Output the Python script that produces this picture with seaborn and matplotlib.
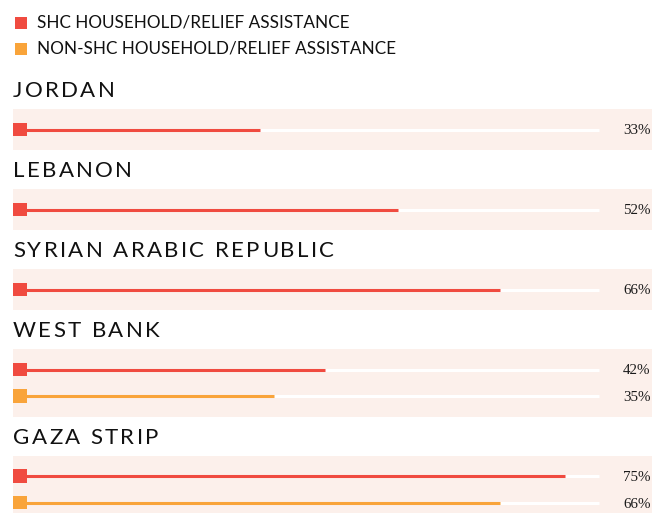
import numpy as np
import pandas as pd
import matplotlib
matplotlib.use("Agg")
import matplotlib.pyplot as plt
import seaborn as sns

# data
countries = ["JORDAN", "LEBANON", "SYRIAN ARABIC REPUBLIC", "WEST BANK", "GAZA STRIP"]
shc_values = [33, 52, 66, 42, 75]
non_shc_values = [None, None, None, 35, 66]
series_labels = ["SHC HOUSEHOLD/RELIEF ASSISTANCE", "NON-SHC HOUSEHOLD/RELIEF ASSISTANCE"]
track_max = 79.7

RED = "#F04B40"
ORANGE = "#F9A43A"
PANEL = "#FCF0EB"

sns.set_theme(style="white")
plt.rcParams["font.family"] = ["Lato", "DejaVu Sans"]

W, H = 652, 513
fig = plt.figure(figsize=(W / 100, H / 100), dpi=100)
ax = fig.add_axes([0, 0, 1, 1])
px_per_pct = 7.27
x0 = 20


def px(x):
    return (x - x0) / px_per_pct


ax.set_xlim(px(0), px(W))
ax.set_ylim(H, 0)
ax.axis("off")
renderer = fig.canvas.get_renderer()


def spaced_text(x, y, s, spacing, **kw):
    # matplotlib has no letter-spacing, so place the letters one by one
    cur = x
    for ch in s:
        t = ax.text(px(cur), y, ch, **kw)
        if ch == " ":
            w = t.get_fontsize() * 100 / 72 * 0.26
        else:
            w = t.get_window_extent(renderer).width
        cur += w + spacing


# legend
for i, (lab, col) in enumerate(zip(series_labels, [RED, ORANGE])):
    yy = 22.5 + i * 26.5
    ax.scatter([px(21)], [yy], marker="s", s=78, color=col, linewidths=0)
    ax.text(px(37), yy, lab, fontsize=12.3, va="center", ha="left", color="#111111")

# build rows
rows = []
y = 97
for c, s, n in zip(countries, shc_values, non_shc_values):
    spaced_text(13, y, c, 2.35, fontsize=16, va="baseline", ha="left", color="#111111")
    top = y + 12
    vals = [(s, "SHC")] + ([(n, "NON")] if n is not None else [])
    bottom = top + 41 + (len(vals) - 1) * 26.5
    ax.axhspan(top, bottom, xmin=13 / W, xmax=1, color=PANEL, lw=0, zorder=0)
    for k, (v, kind) in enumerate(vals):
        rows.append({"country": c, "series": kind, "value": v, "y": top + 20.5 + k * 26.5})
    y = bottom + 27

df = pd.DataFrame(rows)
colors = {"SHC": RED, "NON": ORANGE}

ax.hlines(df["y"], 0, track_max, color="white", lw=2.2, zorder=1)
ax.hlines(df["y"], 0, df["value"], color=[colors[s] for s in df["series"]], lw=2.2, zorder=2)
df["start"] = 0
sns.scatterplot(data=df, x="start", y="y", hue="series", palette=colors, marker="s",
                s=100, linewidth=0, legend=False, ax=ax, zorder=3)
ax.set_xlim(px(0), px(W))
ax.set_ylim(H, 0)
ax.axis("off")

for _, r in df.iterrows():
    ax.text(px(650.5), r["y"] + 1.5, f"{r['value']}%", fontsize=10.8,
            family="Liberation Serif", ha="right", va="center", color="#1a1a1a")

fig.savefig("out.png", dpi=100)
